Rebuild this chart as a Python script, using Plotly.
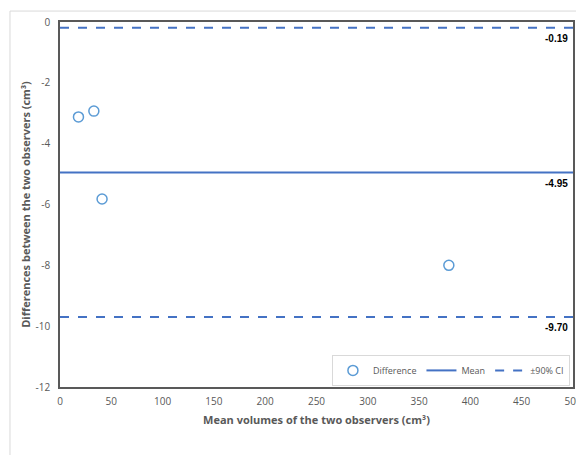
import plotly.graph_objects as go

mean_volume = [18, 33, 41, 379]
difference = [-3.12, -2.93, -5.82, -8.0]
mean_diff = -4.95
upper_ci = -0.19
lower_ci = -9.70
x_range = [0, 500]
y_range = [-12, 0]
x_ticks = [0, 50, 100, 150, 200, 250, 300, 350, 400, 450, 500]
y_ticks = [0, -2, -4, -6, -8, -10, -12]
y_tick_text = ["0", "-2", "-4", "-6", "-8", "-10", "-12"]

blue_pt = "#5B9BD5"
blue_ln = "#4472C4"
gray_txt = "#595959"

fig = go.Figure()
fig.add_trace(go.Scatter(x=mean_volume, y=difference, mode="markers", name="Difference",
                         marker=dict(symbol="circle-open", size=10, color=blue_pt, line=dict(width=1.5, color=blue_pt))))
fig.add_trace(go.Scatter(x=x_range, y=[mean_diff, mean_diff], mode="lines", name="Mean",
                         line=dict(color=blue_ln, width=2)))
fig.add_trace(go.Scatter(x=x_range, y=[upper_ci, upper_ci], mode="lines", name="±90% CI",
                         line=dict(color=blue_ln, width=2, dash="dash")))
fig.add_trace(go.Scatter(x=x_range, y=[lower_ci, lower_ci], mode="lines", name="±90% CI",
                         showlegend=False, line=dict(color=blue_ln, width=2, dash="dash")))

for v in [upper_ci, mean_diff, lower_ci]:
    fig.add_annotation(x=1, xref="paper", y=v, yref="y", text=f"<b>{v:.2f}</b>", showarrow=False,
                       xanchor="right", yanchor="top", xshift=-3, yshift=-3,
                       font=dict(family="Liberation Sans", size=10, color="#000000"))

# outer chart border
fig.add_shape(type="rect", xref="paper", yref="paper", x0=-0.0975, x1=1.2, y0=-0.3, y1=1.030,
              line=dict(color="#d9d9d9", width=1), fillcolor="rgba(0,0,0,0)", layer="below")

fig.update_layout(
    width=576, height=455,
    margin=dict(l=60, r=3, t=22, b=68),
    paper_bgcolor="white", plot_bgcolor="white",
    font=dict(family="Open Sans", size=10, color=gray_txt),
    legend=dict(orientation="h", x=0.994, xanchor="right", y=0.003, yanchor="bottom",
                bgcolor="white", bordercolor="#d9d9d9", borderwidth=1,
                font=dict(size=9, color=gray_txt), itemwidth=30, tracegroupgap=0),
    xaxis=dict(range=x_range, tickvals=x_ticks, showgrid=False, zeroline=False,
               showline=True, linecolor="#595959", linewidth=1.5, mirror=True,
               ticks="", ticklabelstandoff=4, ticklabeloverflow="allow", automargin=False,
               tickfont=dict(size=10, color=gray_txt),
               title=dict(text="<b>Mean volumes of the two observers (cm³)</b>",
                          font=dict(size=11, color=gray_txt), standoff=10)),
    yaxis=dict(range=y_range, tickvals=y_ticks, ticktext=y_tick_text, showgrid=False, zeroline=False,
               showline=True, linecolor="#595959", linewidth=1.5, mirror=True,
               ticks="", ticklabelstandoff=6, automargin=False, tickfont=dict(size=10, color=gray_txt),
               title=dict(text="<b>Differences between the two observers (cm³)</b>",
                          font=dict(size=11, color=gray_txt), standoff=3)),
    showlegend=True,
)

fig.write_html("out.html", config={"displayModeBar": False},
               post_script="document.body.style.margin='0';")
